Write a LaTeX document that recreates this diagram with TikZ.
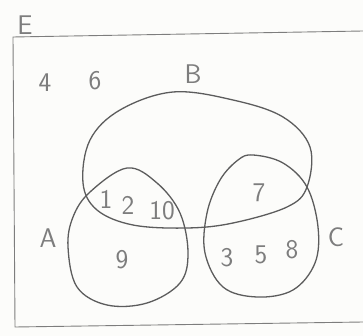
\documentclass[tikz,border=0pt]{standalone}
\usepackage{xcolor}
\usepackage{tikz}
\usetikzlibrary{calc,positioning}
\definecolor{pencil}{RGB}{92,92,92}
\definecolor{pencilLight}{RGB}{125,125,125}
\definecolor{paper}{RGB}{252,252,250}

\begin{document}
\begin{tikzpicture}[x=1pt,y=-1pt,
  setline/.style={pencil, line width=1.3pt, line join=round},
  boxline/.style={pencilLight, line width=0.9pt},
  lbl/.style={text=pencilLight, inner sep=0pt, font=\fontsize{27}{30}\selectfont\sffamily}]
\fill[paper] (0,0) rectangle (363,336);
\useasboundingbox (0,0) rectangle (363,336);

% universal set
\draw[boxline] (363,31) -- (13,37) -- (15,327) -- (363,322);
\node[lbl] (labE) at (25,25) {E};

% set B
\draw[setline] plot[smooth cycle, tension=0.6] coordinates {
  (173,92) (233,100) (283,117) (310,147) (307,187) (287,207) (233,223)
  (187,228) (133,225) (97,210) (83,183) (90,140) (120,110)};
\node[lbl] (labB) at (193,74) {B};

% set A
\draw[setline] plot[smooth cycle, tension=0.6] coordinates {
  (127,168) (157,183) (180,213) (188,253) (180,283) (147,303) (107,305)
  (77,287) (68,247) (73,217) (90,192)};
\node[lbl] (labA) at (48,238) {A};

% set C
\draw[setline] plot[smooth cycle, tension=0.6] coordinates {
  (253,155) (283,163) (307,187) (318,227) (315,263) (293,290) (257,297)
  (223,287) (205,253) (207,213) (220,180) (238,160)};
\node[lbl] (labC) at (336,237) {C};

% elements
\node[lbl] (n4) at (45,83) {4};
\node[lbl] (n6) at (95,81) {6};
\node[lbl] (n1) at (106,199) {1};
\node[lbl] (n2) at (128,205) {2};
\node[lbl] (n10) at (162,211) {10};
\node[lbl] (n7) at (259,193) {7};
\node[lbl] (n9) at (122,260) {9};
\node[lbl] (n3) at (227,258) {3};
\node[lbl] (n5) at (261,255) {5};
\node[lbl] (n8) at (292,250) {8};
\end{tikzpicture}
\end{document}
